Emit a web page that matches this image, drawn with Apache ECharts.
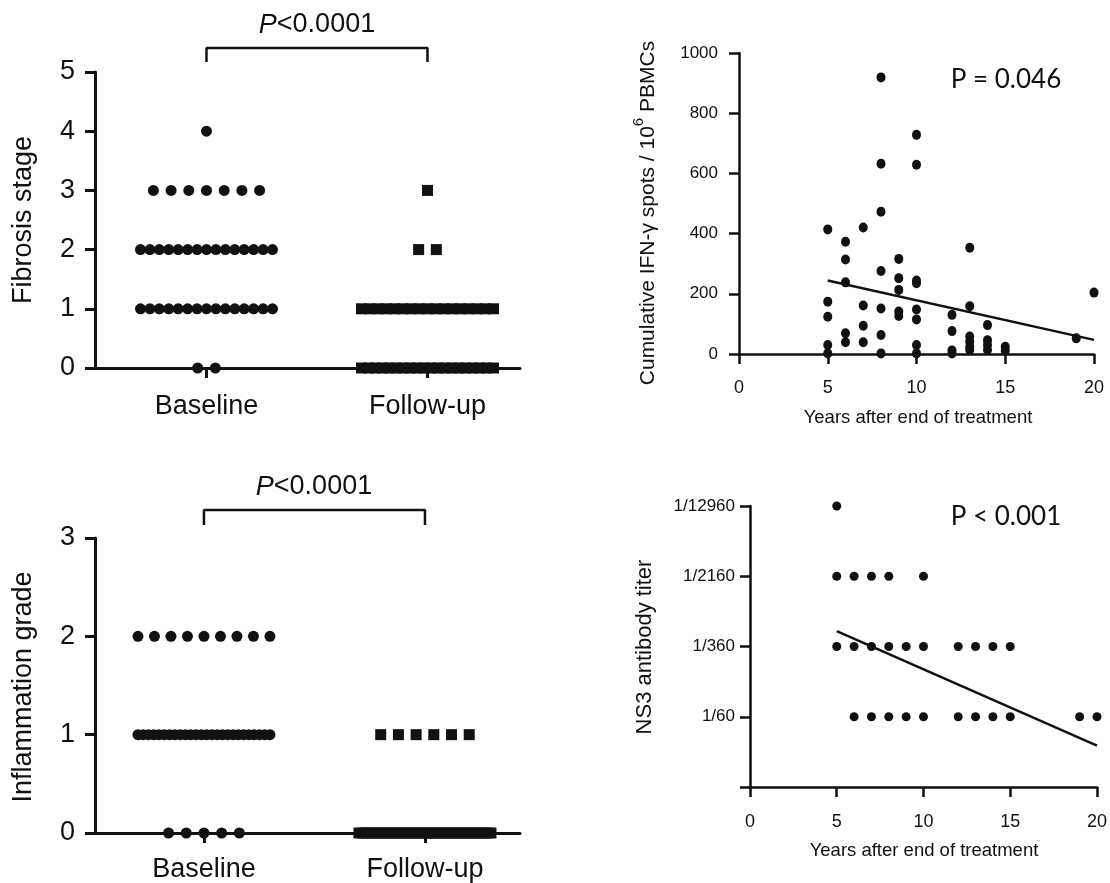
<!DOCTYPE html>
<html>
<head>
<meta charset="utf-8">
<script src="https://cdn.jsdelivr.net/npm/echarts@6/dist/echarts.min.js"></script>
<style>html,body{margin:0;padding:0;background:#fff}#c{width:1110px;height:883px}</style>
</head>
<body>
<div id="c"></div>
<script>
// ---------- DATA ----------
const groupNames = ['Baseline', 'Follow-up'];
const fibrosisStages = [0, 1, 2, 3, 4];
const fibrosisBaselineCounts = [2, 15, 15, 7, 1];
const fibrosisFollowupCounts = [20, 17, 2, 1, 0];
const inflammationGrades = [0, 1, 2];
const inflammationBaselineCounts = [5, 26, 9];
const inflammationFollowupCounts = [34, 6, 0];

const ifnYears = [5,5,5,5,5, 6,6,6,6,6, 7,7,7,7, 8,8,8,8,8,8,8, 9,9,9,9,9, 10,10,10,10,10,10,10,10, 12,12,12,12, 13,13,13,13,13,13, 14,14,14,14, 15,15, 19, 20];
const ifnSpots = [414,174,124,30,2, 373,314,238,69,39, 420,161,94,39, 919,632,473,276,151,63,2, 316,252,213,141,126, 728,629,244,235,148,115,30,2, 130,76,12,2, 353,159,58,41,24,13, 96,46,30,13, 24,11, 52, 204];
const ifnFitYears = [5, 20];
const ifnFitSpots = [244, 47];
const ifnP = 'P = 0.046';

const ns3TiterLabels = ['', '1/60', '1/360', '1/2160', '1/12960'];
const ns3Years = [5, 5,6,7,8,10, 5,6,7,8,9,10,12,13,14,15, 6,7,8,9,10,12,13,14,15,19,20];
const ns3Level = [4, 3,3,3,3,3, 2,2,2,2,2,2,2,2,2,2, 1,1,1,1,1,1,1,1,1,1,1];
const ns3FitYears = [5, 20];
const ns3FitLevel = [2.22, 0.59];
const ns3P = 'P < 0.001';

// ---------- LAYOUT HELPERS ----------
const INK = '#111';
const SANS = '"Liberation Sans", Arial, Helvetica, sans-serif';
const CAL = 'Lato, "Open Sans", sans-serif';

const g1 = {left: 95, top: 72, width: 425, height: 296, xmin: 0.4955, xmax: 2.4186};
const g2 = {left: 95, top: 538, width: 425, height: 295, xmin: 0.507, xmax: 2.43};
const g3 = {left: 739, top: 53, width: 355, height: 301};
const g4 = {left: 750, top: 506, width: 347, height: 281};

function swarm(groupIdx, levels, counts, g) {
  const pxPerUnit = g.width / (g.xmax - g.xmin);
  const pts = [];
  levels.forEach((lv, k) => {
    const n = counts[k];
    const sp = n > 1 ? Math.min(17.7, 132 / (n - 1)) : 0;
    for (let i = 0; i < n; i++) {
      pts.push([groupIdx + 1 + (i - (n - 1) / 2) * sp / pxPerUnit, lv]);
    }
  });
  return pts;
}

function catXAxis(gi, g, margin) {
  return {
    gridIndex: gi, type: 'value', min: g.xmin, max: g.xmax,
    axisLine: {show: true, onZero: false, lineStyle: {color: INK, width: 3}},
    axisTick: {show: true, length: 10, lineStyle: {color: INK, width: 3}, customValues: [1, 2]},
    axisLabel: {show: true, customValues: [1, 2], formatter: v => groupNames[Math.round(v) - 1] || '',
      fontSize: 27, fontFamily: SANS, color: INK, margin: margin},
    splitLine: {show: false}
  };
}
function leftYAxis(gi, max) {
  return {
    gridIndex: gi, type: 'value', min: 0, max: max, interval: 1,
    axisLine: {show: true, onZero: false, lineStyle: {color: INK, width: 3}},
    axisTick: {show: true, length: 10, lineStyle: {color: INK, width: 3}},
    axisLabel: {fontSize: 27, fontFamily: SANS, color: INK, margin: 20},
    splitLine: {show: false}
  };
}
function yearAxis(gi, margin) {
  return {
    gridIndex: gi, type: 'value', min: 0, max: 20, interval: 5,
    axisLine: {show: true, onZero: false, lineStyle: {color: INK, width: 2.5}},
    axisTick: {show: true, length: 10, lineStyle: {color: INK, width: 2.5}},
    axisLabel: {fontSize: 18, fontFamily: SANS, color: INK, margin: margin},
    splitLine: {show: false}
  };
}
const dotStyle = {color: INK, opacity: 1};

const option = {
  animation: false,
  backgroundColor: '#fff',
  grid: [g1, g2, g3, g4].map(g => ({left: g.left, top: g.top, width: g.width, height: g.height, containLabel: false})),
  xAxis: [
    catXAxis(0, g1, 25),
    catXAxis(1, g2, 23),
    yearAxis(2, 25),
    yearAxis(3, 26)
  ],
  yAxis: [
    leftYAxis(0, 5),
    leftYAxis(1, 3),
    {
      gridIndex: 2, type: 'value', min: 0, max: 1000, interval: 200,
      axisLine: {show: true, onZero: false, lineStyle: {color: INK, width: 2.5}},
      axisTick: {show: true, length: 10, lineStyle: {color: INK, width: 2.5}},
      axisLabel: {fontSize: 17, fontFamily: SANS, color: INK, margin: 21, formatter: v => String(v)},
      splitLine: {show: false}
    },
    {
      gridIndex: 3, type: 'value', min: 0, max: 4, interval: 1,
      axisLine: {show: true, onZero: false, lineStyle: {color: INK, width: 2.5}},
      axisTick: {show: true, length: 10, lineStyle: {color: INK, width: 2.5}},
      axisLabel: {fontSize: 17, fontFamily: SANS, color: INK, margin: 15, formatter: v => ns3TiterLabels[v]},
      splitLine: {show: false}
    }
  ],
  series: [
    {type: 'scatter', xAxisIndex: 0, yAxisIndex: 0, clip: false, symbol: 'circle', symbolSize: 11,
      itemStyle: dotStyle, data: swarm(0, fibrosisStages, fibrosisBaselineCounts, g1)},
    {type: 'scatter', xAxisIndex: 0, yAxisIndex: 0, clip: false, symbol: 'rect', symbolSize: 11,
      itemStyle: dotStyle, data: swarm(1, fibrosisStages, fibrosisFollowupCounts, g1)},
    {type: 'line', xAxisIndex: 0, yAxisIndex: 0, clip: false, symbol: 'none', lineStyle: {color: INK, width: 2.5},
      data: [[1, 5.169], [1, 5.405], [2, 5.405], [2, 5.169]]},

    {type: 'scatter', xAxisIndex: 1, yAxisIndex: 1, clip: false, symbol: 'circle', symbolSize: 11,
      itemStyle: dotStyle, data: swarm(0, inflammationGrades, inflammationBaselineCounts, g2)},
    {type: 'scatter', xAxisIndex: 1, yAxisIndex: 1, clip: false, symbol: 'rect', symbolSize: 11,
      itemStyle: dotStyle, data: swarm(1, inflammationGrades, inflammationFollowupCounts, g2)},
    {type: 'line', xAxisIndex: 1, yAxisIndex: 1, clip: false, symbol: 'none', lineStyle: {color: INK, width: 2.5},
      data: [[1, 3.132], [1, 3.285], [2, 3.285], [2, 3.132]]},

    {type: 'scatter', xAxisIndex: 2, yAxisIndex: 2, clip: false, symbol: 'circle', symbolSize: [9, 10],
      itemStyle: dotStyle, data: ifnYears.map((x, i) => [x, ifnSpots[i]])},
    {type: 'line', xAxisIndex: 2, yAxisIndex: 2, symbol: 'none', lineStyle: {color: INK, width: 2.5},
      data: ifnFitYears.map((x, i) => [x, ifnFitSpots[i]])},

    {type: 'scatter', xAxisIndex: 3, yAxisIndex: 3, clip: false, symbol: 'circle', symbolSize: 9,
      itemStyle: dotStyle, data: ns3Years.map((x, i) => [x, ns3Level[i]])},
    {type: 'line', xAxisIndex: 3, yAxisIndex: 3, symbol: 'none', lineStyle: {color: INK, width: 2.5},
      data: ns3FitYears.map((x, i) => [x, ns3FitLevel[i]])}
  ],
  graphic: [
    {type: 'text', x: 317, y: 25, style: {text: '{i|P}{r|<0.0001}', textAlign: 'center', textVerticalAlign: 'middle',
      rich: {i: {fontStyle: 'italic', fontSize: 27, fontFamily: SANS, fill: INK}, r: {fontSize: 27, fontFamily: SANS, fill: INK}}}},
    {type: 'text', x: 314, y: 487, style: {text: '{i|P}{r|<0.0001}', textAlign: 'center', textVerticalAlign: 'middle',
      rich: {i: {fontStyle: 'italic', fontSize: 27, fontFamily: SANS, fill: INK}, r: {fontSize: 27, fontFamily: SANS, fill: INK}}}},
    {type: 'text', x: 24, y: 220, rotation: Math.PI / 2, style: {text: 'Fibrosis stage', fontSize: 27, fontFamily: SANS, fill: INK, textAlign: 'center', textVerticalAlign: 'middle'}},
    {type: 'text', x: 24, y: 687, rotation: Math.PI / 2, style: {text: 'Inflammation grade', fontSize: 27, fontFamily: SANS, fill: INK, textAlign: 'center', textVerticalAlign: 'middle'}},

    {type: 'text', x: 1006, y: 80, style: {text: ifnP, fontSize: 26, fontFamily: CAL, fill: INK, textAlign: 'center', textVerticalAlign: 'middle'}},
    {type: 'text', x: 1006, y: 517, style: {text: ns3P, fontSize: 26, fontFamily: CAL, fill: INK, textAlign: 'center', textVerticalAlign: 'middle'}},
    {type: 'text', x: 918, y: 418, style: {text: 'Years after end of treatment', fontSize: 18.5, fontFamily: SANS, fill: INK, textAlign: 'center', textVerticalAlign: 'middle'}},
    {type: 'text', x: 924, y: 851, style: {text: 'Years after end of treatment', fontSize: 18.5, fontFamily: SANS, fill: INK, textAlign: 'center', textVerticalAlign: 'middle'}},
    {type: 'text', x: 645, y: 213, rotation: Math.PI / 2, style: {text: '{a|Cumulative IFN-γ spots / 10}{s|6}{a| PBMCs}', textAlign: 'center', textVerticalAlign: 'middle',
      rich: {a: {fontSize: 21, fontFamily: SANS, fill: INK, lineHeight: 28, verticalAlign: 'bottom'}, s: {fontSize: 15, fontFamily: SANS, fill: INK, verticalAlign: 'top', lineHeight: 15}}}},
    {type: 'text', x: 645, y: 647, rotation: Math.PI / 2, style: {text: 'NS3 antibody titer', fontSize: 22, fontFamily: SANS, fill: INK, textAlign: 'center', textVerticalAlign: 'middle'}}
  ]
};

const chart = echarts.init(document.getElementById('c'), null, {renderer: 'canvas'});
chart.setOption(option);
</script>
</body>
</html>
